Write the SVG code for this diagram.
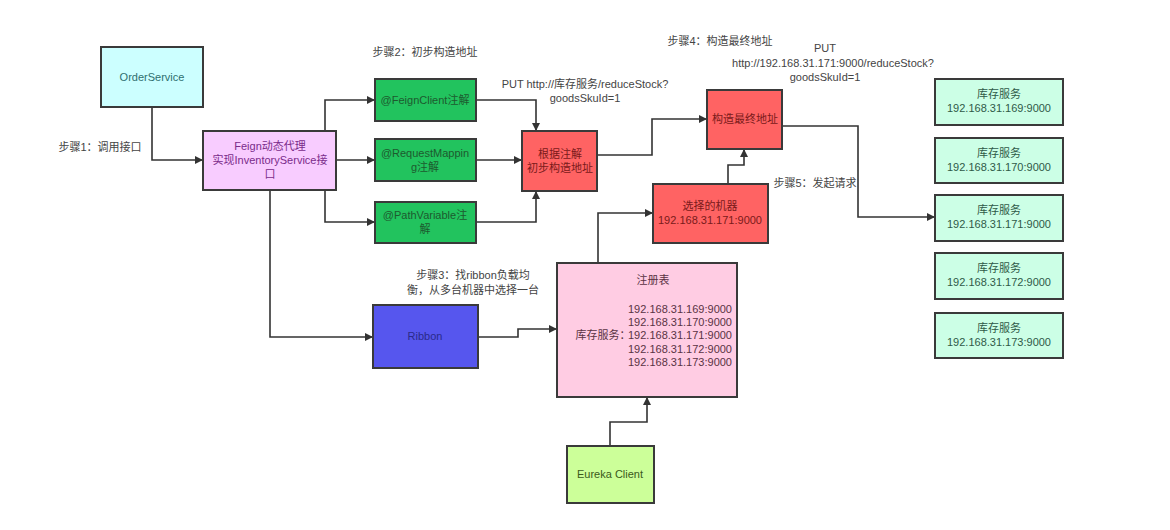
<svg xmlns="http://www.w3.org/2000/svg" width="1170" height="530" viewBox="0 0 1170 530">
<defs>
<marker id="arr" viewBox="0 0 10 10" refX="10" refY="5" markerWidth="8" markerHeight="8" markerUnits="userSpaceOnUse" orient="auto"><path d="M0,0 L10,5 L0,10 z" fill="#333"/></marker>
<style>
text{font-family:"Liberation Sans","Noto Sans CJK SC",sans-serif;font-size:11px;text-anchor:middle;}
.b{stroke:#3a3a3a;stroke-width:2;}
.c{fill:none;stroke:#333;stroke-width:1.6;marker-end:url(#arr);}
.l{fill:#444;}
</style>
</defs>
<rect width="1170" height="530" fill="#fff"/>
<g id="connectors">
<path class="c" d="M152,107 V160 H203"/>
<path class="c" d="M325,131 V100 H375"/>
<path class="c" d="M336,160 H375"/>
<path class="c" d="M325,190 V222 H375"/>
<path class="c" d="M270,190 V337 H373"/>
<path class="c" d="M476,100 H536 V131"/>
<path class="c" d="M476,160 H522"/>
<path class="c" d="M476,222 H536 V191"/>
<path class="c" d="M597,155 H652 V119 H707"/>
<path class="c" d="M728,184 V165 H744 V149"/>
<path class="c" d="M598,263 V213 H653"/>
<path class="c" d="M478,337 H518 V329 H557"/>
<path class="c" d="M610,446 V422 H647 V397"/>
<path class="c" d="M782,126 H858 V217 H935"/>
</g>
<g id="labels" class="l">
<text x="100" y="151">步骤1：调用接口</text>
<text x="425" y="56">步骤2：初步构造地址</text>
<text x="585" y="88">PUT http://库存服务/reduceStock?</text>
<text x="585" y="102">goodsSkuId=1</text>
<text x="720" y="45">步骤4：构造最终地址</text>
<text x="825" y="52">PUT</text>
<text x="833" y="67">http://192.168.31.171:9000/reduceStock?</text>
<text x="825" y="81">goodsSkuId=1</text>
<text x="815" y="187">步骤5：发起请求</text>
<text x="473" y="279">步骤3：找ribbon负载均</text>
<text x="473" y="294">衡，从多台机器中选择一台</text>
</g>
<g id="orderService"><rect class="b" x="101" y="47" width="102" height="60" fill="#ccffff"/><text x="152" y="81" fill="#2f6f6f">OrderService</text></g>
<g id="feign"><rect class="b" x="203" y="131" width="133" height="59" fill="#f8ccff"/><text x="270" y="150" fill="#7a2b8a">Feign动态代理</text><text x="270" y="164" fill="#7a2b8a">实现InventoryService接</text><text x="270" y="178" fill="#7a2b8a">口</text></g>
<g id="feignClient"><rect class="b" x="375" y="79" width="101" height="42" fill="#22c35e"/><text x="425" y="104" fill="#1d5a2e">@FeignClient注解</text></g>
<g id="requestMapping"><rect class="b" x="375" y="139" width="101" height="42" fill="#22c35e"/><text x="425" y="157" fill="#1d5a2e">@RequestMappin</text><text x="425" y="171" fill="#1d5a2e">g注解</text></g>
<g id="pathVariable"><rect class="b" x="375" y="202" width="101" height="41" fill="#22c35e"/><text x="425" y="219" fill="#1d5a2e">@PathVariable注</text><text x="425" y="233" fill="#1d5a2e">解</text></g>
<g id="initAddr"><rect class="b" x="522" y="131" width="75" height="60" fill="#ff6363"/><text x="560" y="158" fill="#7a1a1a">根据注解</text><text x="560" y="172" fill="#7a1a1a">初步构造地址</text></g>
<g id="finalAddr"><rect class="b" x="707" y="90" width="75" height="59" fill="#ff6363"/><text x="745" y="123" fill="#7a1a1a">构造最终地址</text></g>
<g id="chosen"><rect class="b" x="653" y="184" width="115" height="59" fill="#ff6363"/><text x="710" y="210" fill="#7a1a1a">选择的机器</text><text x="710" y="224" fill="#7a1a1a">192.168.31.171:9000</text></g>
<g id="ribbon"><rect class="b" x="373" y="305" width="105" height="63" fill="#5656ee"/><text x="425" y="340" fill="#2a2a8a">Ribbon</text></g>
<g id="registry"><rect class="b" x="557" y="263" width="180" height="134" fill="#ffcce3"/><text x="653" y="284" fill="#5a3344">注册表</text><text x="603" y="339" fill="#5a3344">库存服务：</text>
<g style="text-anchor:start"><text x="628" y="313" fill="#5a3344" style="text-anchor:start">192.168.31.169:9000</text><text x="628" y="326" fill="#5a3344" style="text-anchor:start">192.168.31.170:9000</text><text x="628" y="339" fill="#5a3344" style="text-anchor:start">192.168.31.171:9000</text><text x="628" y="353" fill="#5a3344" style="text-anchor:start">192.168.31.172:9000</text><text x="628" y="366" fill="#5a3344" style="text-anchor:start">192.168.31.173:9000</text></g></g>
<g id="eureka"><rect class="b" x="567" y="446" width="87" height="57" fill="#ccff99"/><text x="610" y="478" fill="#3a5a1a">Eureka Client</text></g>
<g id="inv169"><rect class="b" x="935" y="79" width="128" height="46" fill="#ccffe6"/><text x="999" y="98" fill="#2f5a48">库存服务</text><text x="999" y="112" fill="#2f5a48">192.168.31.169:9000</text></g>
<g id="inv170"><rect class="b" x="935" y="138" width="128" height="45" fill="#ccffe6"/><text x="999" y="157" fill="#2f5a48">库存服务</text><text x="999" y="171" fill="#2f5a48">192.168.31.170:9000</text></g>
<g id="inv171"><rect class="b" x="935" y="195" width="128" height="46" fill="#ccffe6"/><text x="999" y="214" fill="#2f5a48">库存服务</text><text x="999" y="228" fill="#2f5a48">192.168.31.171:9000</text></g>
<g id="inv172"><rect class="b" x="935" y="253" width="128" height="46" fill="#ccffe6"/><text x="999" y="272" fill="#2f5a48">库存服务</text><text x="999" y="286" fill="#2f5a48">192.168.31.172:9000</text></g>
<g id="inv173"><rect class="b" x="935" y="313" width="128" height="45" fill="#ccffe6"/><text x="999" y="332" fill="#2f5a48">库存服务</text><text x="999" y="346" fill="#2f5a48">192.168.31.173:9000</text></g>
</svg>
